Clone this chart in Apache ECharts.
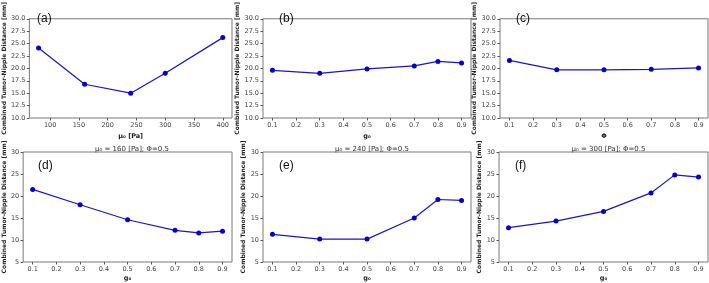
<!DOCTYPE html>
<html>
<head>
<meta charset="utf-8">
<script src="https://cdn.jsdelivr.net/npm/echarts@6/dist/echarts.min.js"></script>
<style>
html, body { margin: 0; padding: 0; background: #fff; }
#chart { width: 709px; height: 283px; }
</style>
</head>
<body>
<div id="chart"></div>
<script>
// data
var muX = [80, 160, 240, 300, 400]
var muY = [24.1, 16.8, 15.0, 19.0, 26.2]
var gX = [0.1, 0.3, 0.5, 0.7, 0.8, 0.9]
var gY = [19.6, 19.0, 19.9, 20.5, 21.4, 21.1]
var phiX = [0.1, 0.3, 0.5, 0.7, 0.9]
var phiY = [21.6, 19.7, 19.7, 19.8, 20.1]
var d160 = [21.5, 18.0, 14.6, 12.2, 11.6, 12.0]
var d240 = [11.3, 10.2, 10.2, 15.0, 19.2, 19.0]
var d300 = [12.8, 14.3, 16.5, 20.7, 24.8, 24.3]
var muTicks = [100, 150, 200, 250, 300, 350, 400]
var gTicks = [0.1, 0.2, 0.3, 0.4, 0.5, 0.6, 0.7, 0.8, 0.9]
var panelNames = ['(a)', '(b)', '(c)', '(d)', '(e)', '(f)']
var rowTitles = ['μ₀ = 160 [Pa]; Φ=0.5', 'μ₀ = 240 [Pa]; Φ=0.5', 'μ₀ = 300 [Pa]; Φ=0.5']
var xNames = ['μ₀ [Pa]', 'g₀', 'Φ', 'g₀', 'g₀', 'g₀']
var yName = 'Combined Tumor-Nipple Distance [mm]'

function pairs(xs, ys){
    var out = []
    for (var i=0; i<xs.length; i++){
        out.push([xs[i], ys[i]])
    }
    return(out)
}

function oneDecimal(v){
    return v.toFixed(1)
}

function buildOption(){
    var font = 'DejaVu Sans'
    var grids = [
        {left: 21, top: 5, width: 211, height: 113},
        {left: 263, top: 5, width: 208, height: 113},
        {left: 500, top: 5, width: 208, height: 113},
        {left: 22, top: 152, width: 210, height: 114},
        {left: 263, top: 152, width: 208, height: 114},
        {left: 499, top: 152, width: 209, height: 114}
    ]
    var yGaps = [15, 20, 20, 13, 15, 15]
    var seriesData = [
        pairs(muX, muY), pairs(gX, gY), pairs(phiX, phiY),
        pairs(gX, d160), pairs(gX, d240), pairs(gX, d300)
    ]

    var xAxes = [], yAxes = [], series = [], titles = []
    for (var i=0; i<6; i++){
        grids[i].show = true
        grids[i].borderColor = '#7a7a7a'
        grids[i].borderWidth = 1
        var upper = i < 3
        var ticks = i === 0 ? muTicks : gTicks
        xAxes.push({
            gridIndex: i,
            type: 'value',
            min: i === 0 ? 64 : 0.06,
            max: i === 0 ? 416 : 0.94,
            name: xNames[i],
            nameLocation: 'middle',
            nameGap: upper ? 15 : 13,
            nameTextStyle: {fontFamily: font, fontSize: 6.5, fontWeight: 'bold', color: '#222'},
            splitLine: {show: false},
            axisLine: {show: false},
            axisTick: {show: true, length: 2.5, lineStyle: {color: '#555'}, customValues: ticks},
            axisLabel: {fontFamily: font, fontSize: 6.5, color: '#444', margin: 4, customValues: ticks}
        })
        yAxes.push({
            gridIndex: i,
            type: 'value',
            min: upper ? 10 : 5,
            max: 30,
            interval: upper ? 2.5 : 5,
            name: yName,
            nameLocation: 'middle',
            nameGap: yGaps[i],
            nameTextStyle: {fontFamily: font, fontSize: 6, fontWeight: 'bold', color: '#222'},
            splitLine: {show: false},
            axisLine: {show: false},
            axisTick: {show: true, length: 2.5, lineStyle: {color: '#555'}},
            axisLabel: {
                fontFamily: font, fontSize: 6.5, color: '#444', margin: 4,
                formatter: upper ? oneDecimal : '{value}'
            }
        })
        series.push({
            type: 'line',
            xAxisIndex: i,
            yAxisIndex: i,
            data: seriesData[i],
            symbol: 'circle',
            symbolSize: 5,
            lineStyle: {color: '#1515d8', width: 1.2},
            itemStyle: {color: '#0000d0'},
            animation: false
        })
        titles.push({
            text: panelNames[i],
            left: grids[i].left + 11,
            top: grids[i].top + 3,
            textStyle: {fontFamily: 'Liberation Sans', fontSize: 12, fontWeight: 'normal', color: '#111'}
        })
    }
    for (var j=0; j<3; j++){
        var g = grids[j+3]
        titles.push({
            text: rowTitles[j],
            left: g.left + g.width/2,
            top: 141,
            textAlign: 'center',
            textStyle: {fontFamily: font, fontSize: 7, fontWeight: 'normal', color: '#333'}
        })
    }
    return({
        animation: false,
        backgroundColor: '#fff',
        title: titles,
        grid: grids,
        xAxis: xAxes,
        yAxis: yAxes,
        series: series
    })
}

var chart = echarts.init(document.getElementById('chart'), null, {renderer: 'canvas'})
chart.setOption(buildOption())
</script>
</body>
</html>
